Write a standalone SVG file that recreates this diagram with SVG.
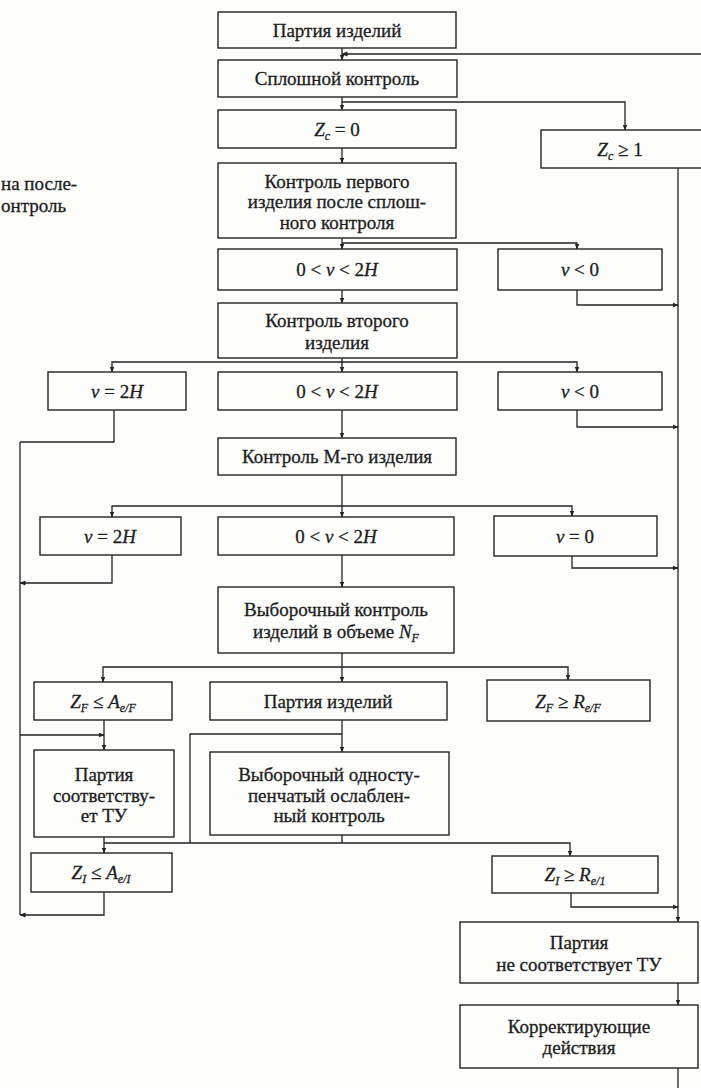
<svg xmlns="http://www.w3.org/2000/svg" width="701" height="1088" viewBox="0 0 701 1088">
<style>
.bg{fill:#fdfdfc}
.box{fill:#fdfdfc;stroke:#222;stroke-width:1.4}
.ln{fill:none;stroke:#222;stroke-width:1.3}
.t{font-family:"Liberation Serif","DejaVu Serif",serif;font-size:19px;fill:#1e1e1e;stroke:#1e1e1e;stroke-width:0.3;text-anchor:middle}
.l{text-anchor:start}
.i{font-style:italic}
.s{font-size:12px;font-style:italic}
</style>
<defs>
<marker id="a" markerWidth="6" markerHeight="6" refX="5.5" refY="3" orient="auto" markerUnits="userSpaceOnUse">
<path d="M0,0.6 L6,3 L0,5.4 z" fill="#222"/>
</marker>
</defs>
<rect class="bg" x="0" y="0" width="701" height="1088"/>

<g id="connectors">
<path class="ln" d="M701,54 H342" marker-end="url(#a)"/>
<path class="ln" d="M342,48 V60" marker-end="url(#a)"/>
<path class="ln" d="M342,97 V110" marker-end="url(#a)"/>
<path class="ln" d="M342,102 H625 V130" marker-end="url(#a)"/>
<path class="ln" d="M678,168 V922" marker-end="url(#a)"/>
<path class="ln" d="M342,148 V163" marker-end="url(#a)"/>
<path class="ln" d="M342,238 V249" marker-end="url(#a)"/>
<path class="ln" d="M342,243 H577 V249" marker-end="url(#a)"/>
<path class="ln" d="M577,290 V305 H678" marker-end="url(#a)"/>
<path class="ln" d="M342,290 V303" marker-end="url(#a)"/>
<path class="ln" d="M342,358 V372" marker-end="url(#a)"/>
<path class="ln" d="M342,362 H112 V372" marker-end="url(#a)"/>
<path class="ln" d="M342,362 H577 V372" marker-end="url(#a)"/>
<path class="ln" d="M114,410 V442 H20"/>
<path class="ln" d="M577,410 V427 H678" marker-end="url(#a)"/>
<path class="ln" d="M342,410 V438" marker-end="url(#a)"/>
<path class="ln" d="M342,475 V517" marker-end="url(#a)"/>
<path class="ln" d="M342,506 H112 V517" marker-end="url(#a)"/>
<path class="ln" d="M342,506 H572 V516" marker-end="url(#a)"/>
<path class="ln" d="M112,555 V583 H20" marker-end="url(#a)"/>
<path class="ln" d="M572,556 V568 H678" marker-end="url(#a)"/>
<path class="ln" d="M342,555 V587" marker-end="url(#a)"/>
<path class="ln" d="M342,653 V682" marker-end="url(#a)"/>
<path class="ln" d="M342,667 H103 V682" marker-end="url(#a)"/>
<path class="ln" d="M342,667 H568 V680" marker-end="url(#a)"/>
<path class="ln" d="M20,442 V915"/>
<path class="ln" d="M20,735 H104" marker-end="url(#a)"/>
<path class="ln" d="M104,720 V750" marker-end="url(#a)"/>
<path class="ln" d="M342,720 V752" marker-end="url(#a)"/>
<path class="ln" d="M342,734 H190 V843"/>
<path class="ln" d="M342,835 V843"/>
<path class="ln" d="M104,843 H570 V856" marker-end="url(#a)"/>
<path class="ln" d="M104,837 V853" marker-end="url(#a)"/>
<path class="ln" d="M104,892 V915 H20" marker-end="url(#a)"/>
<path class="ln" d="M571,893 V907 H678" marker-end="url(#a)"/>
<path class="ln" d="M678,983 V1005" marker-end="url(#a)"/>
<path class="ln" d="M678,1068 V1088"/>
</g>

<g id="fragment">
<text class="t l" x="1" y="190">на после-</text>
<text class="t l" x="1" y="212">онтроль</text>
</g>

<g id="n1"><rect class="box" x="218" y="12" width="238" height="36"/><text class="t" x="337" y="36.5">Партия изделий</text></g>
<g id="n2"><rect class="box" x="218" y="60" width="239" height="37"/><text class="t" x="337" y="85">Сплошной контроль</text></g>
<g id="n3"><rect class="box" x="218" y="110" width="238" height="38"/><text class="t" x="337" y="135.5"><tspan class="i">Z</tspan><tspan class="s" dy="4">c</tspan><tspan dy="-4"> = 0</tspan></text></g>
<g id="n4"><rect class="box" x="541" y="130" width="162" height="38"/><text class="t" x="620" y="155.5"><tspan class="i">Z</tspan><tspan class="s" dy="4">c</tspan><tspan dy="-4"> ≥ 1</tspan></text></g>
<g id="n5"><rect class="box" x="218" y="163" width="238" height="75"/>
<text class="t" x="337" y="187.5">Контроль первого</text>
<text class="t" x="337" y="208">изделия после сплош-</text>
<text class="t" x="337" y="228.5">ного контроля</text></g>
<g id="n6"><rect class="box" x="218" y="249" width="239" height="41"/><text class="t" x="337" y="276">0 &lt; <tspan class="i">ν</tspan> &lt; 2<tspan class="i">H</tspan></text></g>
<g id="n7"><rect class="box" x="498" y="249" width="164" height="41"/><text class="t" x="580" y="276"><tspan class="i">ν</tspan> &lt; 0</text></g>
<g id="n8"><rect class="box" x="218" y="303" width="239" height="55"/>
<text class="t" x="337" y="326.5">Контроль второго</text>
<text class="t" x="337" y="348.5">изделия</text></g>
<g id="n9"><rect class="box" x="48" y="372" width="138" height="38"/><text class="t" x="117" y="397.5"><tspan class="i">ν</tspan> = 2<tspan class="i">H</tspan></text></g>
<g id="n10"><rect class="box" x="218" y="372" width="239" height="38"/><text class="t" x="337" y="397.5">0 &lt; <tspan class="i">ν</tspan> &lt; 2<tspan class="i">H</tspan></text></g>
<g id="n11"><rect class="box" x="498" y="372" width="164" height="38"/><text class="t" x="580" y="397.5"><tspan class="i">ν</tspan> &lt; 0</text></g>
<g id="n12"><rect class="box" x="218" y="438" width="238" height="37"/><text class="t" x="337" y="463">Контроль М-го изделия</text></g>
<g id="n13"><rect class="box" x="40" y="517" width="141" height="38"/><text class="t" x="110" y="542.5"><tspan class="i">ν</tspan> = 2<tspan class="i">H</tspan></text></g>
<g id="n14"><rect class="box" x="218" y="517" width="236" height="38"/><text class="t" x="336" y="542.5">0 &lt; <tspan class="i">ν</tspan> &lt; 2<tspan class="i">H</tspan></text></g>
<g id="n15"><rect class="box" x="494" y="516" width="163" height="40"/><text class="t" x="575" y="542.5"><tspan class="i">ν</tspan> = 0</text></g>
<g id="n16"><rect class="box" x="218" y="587" width="236" height="66"/>
<text class="t" x="336" y="615.5">Выборочный контроль</text>
<text class="t" x="336" y="637.5">изделий в объеме <tspan class="i">N</tspan><tspan class="s" dy="4">F</tspan></text></g>
<g id="n17"><rect class="box" x="34" y="682" width="138" height="38"/><text class="t" x="103" y="707.5"><tspan class="i">Z</tspan><tspan class="s" dy="4">F</tspan><tspan dy="-4"> ≤ </tspan><tspan class="i">A</tspan><tspan class="s" dy="4">e/F</tspan></text></g>
<g id="n18"><rect class="box" x="210" y="682" width="237" height="38"/><text class="t" x="328" y="707.5">Партия изделий</text></g>
<g id="n19"><rect class="box" x="487" y="680" width="163" height="41"/><text class="t" x="568" y="707.5"><tspan class="i">Z</tspan><tspan class="s" dy="4">F</tspan><tspan dy="-4"> ≥ </tspan><tspan class="i">R</tspan><tspan class="s" dy="4">e/F</tspan></text></g>
<g id="n20"><rect class="box" x="34" y="750" width="140" height="87"/>
<text class="t" x="104" y="780.5">Партия</text>
<text class="t" x="104" y="801.5">соответству-</text>
<text class="t" x="104" y="821.5">ет ТУ</text></g>
<g id="n21"><rect class="box" x="210" y="752" width="239" height="83"/>
<text class="t" x="329" y="780.5">Выборочный односту-</text>
<text class="t" x="329" y="801.5">пенчатый ослаблен-</text>
<text class="t" x="329" y="821.5">ный контроль</text></g>
<g id="n22"><rect class="box" x="31" y="853" width="141" height="39"/><text class="t" x="101" y="879"><tspan class="i">Z</tspan><tspan class="s" dy="4">I</tspan><tspan dy="-4"> ≤ </tspan><tspan class="i">A</tspan><tspan class="s" dy="4">e/I</tspan></text></g>
<g id="n23"><rect class="box" x="492" y="856" width="166" height="37"/><text class="t" x="575" y="881"><tspan class="i">Z</tspan><tspan class="s" dy="4">I</tspan><tspan dy="-4"> ≥ </tspan><tspan class="i">R</tspan><tspan class="s" dy="4">e/1</tspan></text></g>
<g id="n24"><rect class="box" x="460" y="922" width="238" height="61"/>
<text class="t" x="579" y="948.5">Партия</text>
<text class="t" x="579" y="970.5">не соответствует ТУ</text></g>
<g id="n25"><rect class="box" x="460" y="1005" width="238" height="63"/>
<text class="t" x="579" y="1032.5">Корректирующие</text>
<text class="t" x="579" y="1053.5">действия</text></g>
</svg>
